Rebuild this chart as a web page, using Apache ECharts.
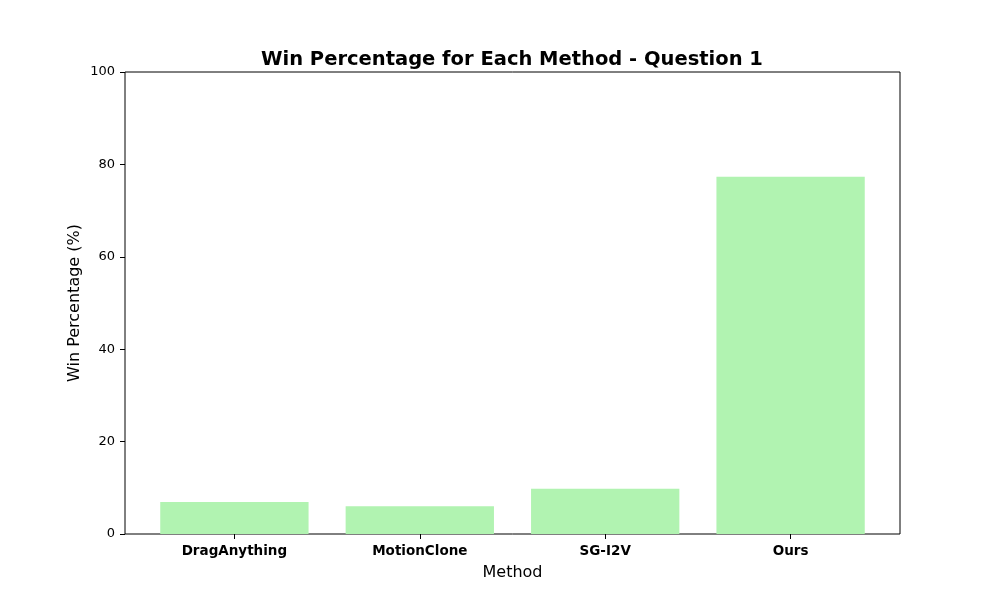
<!DOCTYPE html>
<html><head><meta charset="utf-8">
<script src="https://cdn.jsdelivr.net/npm/echarts@6/dist/echarts.min.js"></script>
<style>html,body{margin:0;padding:0;background:#fff}#c{width:1000px;height:600px}</style>
</head><body><div id="c"></div>
<script>
const categories = ['DragAnything', 'MotionClone', 'SG-I2V', 'Ours'];
const winPct = [6.9, 6.0, 9.8, 77.3];
const yTicks = [0, 20, 40, 60, 80, 100];

const font = 'DejaVu Sans';
const chart = echarts.init(document.getElementById('c'));
chart.setOption({
  backgroundColor: '#fff',
  animation: false,
  title: {
    text: 'Win Percentage for Each Method - Question 1',
    left: 256, top: 45,
    textStyle: { fontFamily: font, fontSize: 19.5, fontWeight: 'bold', color: '#000' }
  },
  grid: [
    { left: 125, right: 100, top: 72, bottom: 66, show: true, borderColor: '#000', borderWidth: 1, backgroundColor: 'transparent' },
    { left: 141.7, width: 741.6, top: 72, bottom: 66 }
  ],
  xAxis: [
    { gridIndex: 0, type: 'value', min: 0, max: 1, show: false },
    { gridIndex: 1, type: 'category', data: categories,
      axisLine: { show: false },
      axisTick: { show: true, alignWithLabel: true, length: 5, lineStyle: { color: '#000' } },
      axisLabel: { fontFamily: font, fontSize: 13.5, fontWeight: 'bold', color: '#000', margin: 10 },
      name: 'Method', nameLocation: 'middle', nameGap: 31,
      nameTextStyle: { fontFamily: font, fontSize: 16, color: '#000' } }
  ],
  yAxis: [
    { gridIndex: 0, type: 'value', min: 0, max: 100, interval: 20,
      axisLine: { show: false },
      axisTick: { show: true, length: 5, lineStyle: { color: '#000' } },
      splitLine: { show: false },
      axisLabel: { fontFamily: font, fontSize: 13, color: '#000', margin: 10,
        customValues: yTicks },
      name: 'Win Percentage (%)', nameLocation: 'middle', nameGap: 42,
      nameMoveOverlap: false,
      nameTextStyle: { fontFamily: font, fontSize: 16, color: '#000' } },
    { gridIndex: 1, type: 'value', min: 0, max: 100, show: false }
  ],
  series: [{
    type: 'bar', xAxisIndex: 1, yAxisIndex: 1,
    data: winPct, barWidth: '80%',
    itemStyle: { color: '#b1f3b1' }
  }]
});
</script></body></html>
